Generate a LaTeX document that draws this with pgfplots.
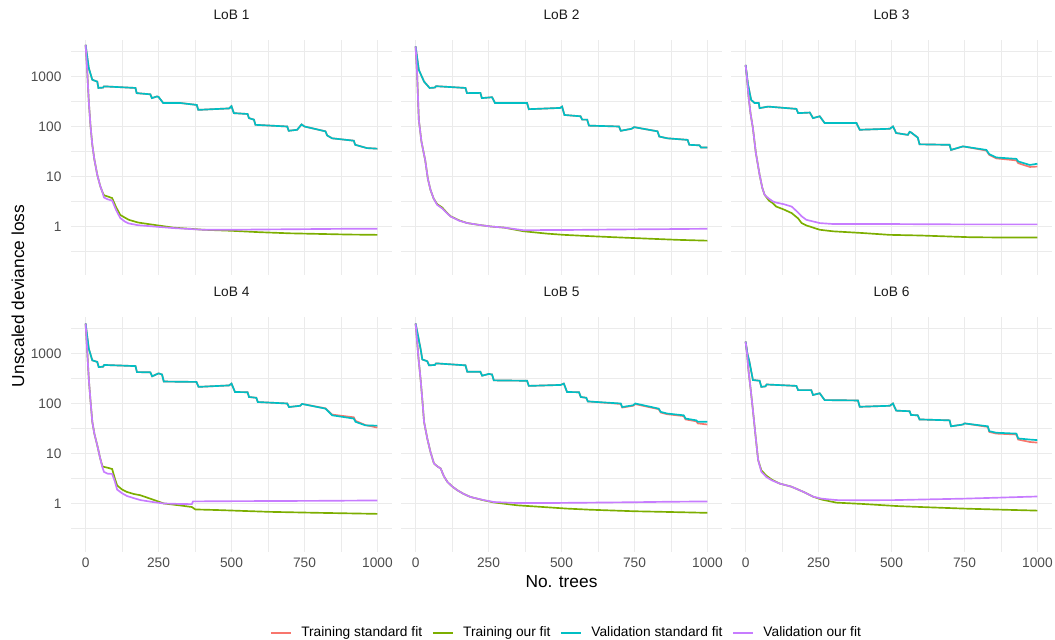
\documentclass[border=0pt]{standalone}
\usepackage{fontspec}
\setmainfont{Liberation Sans}
\usepackage{pgfplots}
\usepackage{pgfplotstable}
\pgfplotsset{compat=1.18}
\definecolor{cR}{HTML}{F8766D}
\definecolor{cG}{HTML}{7CAE00}
\definecolor{cT}{HTML}{00BFC4}
\definecolor{cP}{HTML}{C77CFF}
\definecolor{gridc}{HTML}{EBEBEB}
\definecolor{tickc}{HTML}{4D4D4D}
\definecolor{stripc}{HTML}{1A1A1A}

% standard fit: x, training (trs), validation (vas)
\pgfplotstableread{
x trs vas
0 4300 4300
11 1470 1470
23 860 860
40 790 790
44 590 590
60 600 600
63 635 635
171 590 590
175 465 465
222 440 440
227 370 370
245 400 400
250 390 390
266 295 295
325 295 295
381 270 270
386 215 215
492 230 230
500 255 255
508 185 185
555 178 178
560 147 147
577 137 137
582 108 108
691 100 100
696 82 82
725 86 86
740 110 110
750 100 100
822 80 80
828 66 66
845 58 58
919 52 52
924 43 43
964 37 37
1000 36 36
}\sA
\pgfplotstableread{
x tro vao
0 4300 4300
5 1500 1500
11 316 316
17 100 100
23 43 43
30 22 22
40 10.8 10.8
50 6.5 6.5
57 5.0 5.0
63 4.2 3.8
75 4.0 3.5
91 3.7 3.3
105 2.4 2.1
119 1.7 1.47
135 1.5 1.25
148 1.36 1.15
180 1.2 1.06
233 1.08 1.0
300 0.95 0.93
404 0.86 0.86
500 0.82 0.86
594 0.77 0.87
700 0.73 0.88
800 0.71 0.89
900 0.69 0.9
1000 0.68 0.9
}\oA

\pgfplotstableread{
x trs vas
0 4000 4000
11 1360 1360
29 790 790
48 590 590
66 600 600
70 640 640
171 590 590
176 465 465
222 470 470
227 370 370
262 385 385
272 295 295
382 295 295
388 222 222
495 235 235
502 250 250
510 170 170
565 160 160
571 137 137
588 137 137
594 104 104
697 100 100
703 82 82
740 90 90
749 97 97
829 80 80
835 63 63
863 58 58
932 54 54
938 43 43
973 42 42
978 38 38
1000 38 38
}\sB
\pgfplotstableread{
x tro vao
0 4000 4000
5 1200 1200
11 137 137
20 50 50
33 21 21
42 9 9
51 5.4 5.4
62 3.6 3.6
74 2.8 2.7
91 2.4 2.3
105 1.95 1.9
120 1.6 1.58
150 1.32 1.3
177 1.17 1.17
220 1.07 1.07
257 1.0 1.0
303 0.95 0.95
371 0.8 0.84
450 0.72 0.85
508 0.68 0.85
600 0.64 0.86
680 0.61 0.87
800 0.57 0.88
900 0.54 0.89
1000 0.52 0.9
}\oB

\pgfplotstableread{
x trs vas
0 1700 1700
8 700 700
19 340 340
31 295 295
45 295 295
48 233 233
77 250 250
174 225 225
180 185 185
220 190 190
231 147 147
254 160 160
271 117 117
380 117 117
391 86 86
494 90 90
505 100 100
516 74 74
556 68 68
562 78 78
567 76 76
590 60 60
596 44 44
699 43 43
704 34 34
745 40 40
825 33 34
835 27 28
859 23 24
928 21 22.5
934 18.5 20
974 15.5 17
1000 15.8 18
}\sC
\pgfplotstableread{
x tro vao
0 1700 1700
5 900 900
10 400 400
17 180 180
25 93 93
35 30 30
48 10.8 10.8
57 6 6
65 4.3 4.3
80 3.3 3.6
94 2.9 3.16
105 2.5 3.0
130 2.2 2.8
158 1.85 2.5
180 1.45 1.9
192 1.17 1.6
208 1.05 1.36
254 0.86 1.17
300 0.8 1.12
400 0.74 1.12
494 0.68 1.12
600 0.66 1.11
769 0.61 1.1
900 0.6 1.1
1000 0.6 1.1
}\oC

\pgfplotstableread{
x trs vas
0 3980 3980
11 1250 1250
23 730 730
40 680 680
45 535 535
60 545 545
64 590 590
171 560 560
176 425 425
222 420 420
228 350 350
250 400 400
262 380 380
268 275 275
380 270 270
387 215 215
492 230 230
500 250 250
512 170 170
555 168 168
560 135 135
585 130 130
590 107 107
691 100 100
697 85 85
735 90 90
742 98 98
822 80 79
845 60 58
919 53 50
925 45 43
959 37 36.5
1000 33 36
}\sD
\pgfplotstableread{
x tro vao
0 3980 3980
5 1300 1300
11 310 310
17 110 110
23 43 43
30 25 25
40 14.6 14.6
50 8 8
58 5.5 5.2
63 5.4 4.3
75 5.2 3.95
91 4.9 3.9
100 3.2 2.8
108 2.3 1.9
125 1.9 1.6
142 1.7 1.41
165 1.55 1.28
188 1.46 1.17
230 1.2 1.07
268 1.0 1.0
320 0.92 0.98
364 0.85 0.97
368 0.82 1.1
376 0.76 1.1
450 0.74 1.11
632 0.68 1.12
800 0.65 1.13
1000 0.62 1.15
}\oD

\pgfplotstableread{
x trs vas
0 3980 3980
17 1250 1250
23 760 760
40 700 700
46 580 580
66 590 590
70 635 635
171 580 580
177 430 430
222 430 430
228 360 360
251 390 390
262 380 380
268 290 290
382 285 285
388 225 225
497 235 235
508 250 250
519 170 170
560 168 168
566 135 135
585 130 130
590 110 110
703 98 100
708 83 85
745 90 92
753 97 100
833 77 79
840 66 68
862 61 63
919 56 58
925 48 50
962 44 46
967 40 43
1000 38 43
}\sE
\pgfplotstableread{
x tro vao
0 3980 3980
5 1800 1800
10 800 800
17 310 310
23 120 120
29 43 43
40 20 20
51 10.7 10.7
63 6.3 6.3
75 5.5 5.5
86 5.0 5.0
97 3.5 3.5
109 2.7 2.7
125 2.2 2.2
143 1.84 1.84
165 1.55 1.55
188 1.35 1.35
230 1.17 1.18
268 1.05 1.07
348 0.92 1.02
450 0.84 1.02
519 0.79 1.03
600 0.75 1.04
747 0.70 1.06
850 0.68 1.08
1000 0.65 1.1
}\oE

\pgfplotstableread{
x trs vas
0 1730 1730
6 1000 1000
13 690 690
25 295 295
48 285 285
54 215 215
68 220 220
72 240 240
174 225 225
180 185 185
225 185 185
231 148 148
254 160 160
271 117 117
385 115 115
391 86 86
494 90 90
505 100 100
516 72 72
562 70 70
567 59 59
590 58 58
596 48 48
699 46 46
704 35 35
745 38 38
750 40 40
830 34 35
835 27 28
859 25 26
928 24 25
934 19 20
974 17 19
1000 16.5 18.5
}\sF
\pgfplotstableread{
x tro vao
0 1730 1730
5 1000 1000
10 450 450
17 200 200
25 74 74
35 20 20
43 7.4 7.4
54 4.6 4.3
71 3.6 3.4
90 3.0 2.9
117 2.5 2.5
157 2.17 2.17
197 1.72 1.72
231 1.37 1.37
260 1.2 1.25
311 1.04 1.17
400 0.98 1.16
516 0.89 1.17
600 0.85 1.2
750 0.79 1.25
850 0.76 1.3
1000 0.72 1.38
}\oF

\pgfplotsset{
 every axis/.append style={
  scale only axis, width=240.75pt, height=176.25pt,
  xmin=-50, xmax=1050, ymin=0.107, ymax=5370,
  axis line style={draw=none},
  major tick length=0pt, minor tick length=0pt,
  xtick={0,250,500,750,1000}, minor xtick={125,375,625,875},
  ytick={1,10,100,1000}, minor ytick={0.316,3.16,31.6,316,3162},
  yticklabels={1,10,100,1000},
  grid=both,
  major grid style={draw=gridc, line width=1.0pt},
  minor grid style={draw=gridc, line width=0.5pt},
  ticklabel style={font=\fontsize{10.3}{12}\selectfont, text=tickc},
  yticklabel style={inner sep=0pt, xshift=-7pt, anchor=east},
  xticklabel style={inner sep=0pt, yshift=-4.5pt, anchor=north},
  title style={font=\fontsize{10.3}{12}\selectfont, text=stripc, anchor=center, at={(0.5,1)}, yshift=12.8pt},
  every axis plot/.append style={line width=1.25pt, mark=none},
 },
}

\begin{document}
\begin{tikzpicture}
\useasboundingbox (0,0) rectangle (791.25pt,-479.25pt);

\begin{axis}[ymode=log, xticklabels={}, title={LoB 1}, at={(53.25pt,-30pt)}, anchor=north west,
  legend columns=4,
  legend style={draw=none, fill=none, at={(1.545,-1.522)}, anchor=center,
    font=\fontsize{10.3}{12}\selectfont,
    /tikz/every odd column/.append style={column sep=5pt},
    /tikz/every even column/.append style={column sep=5.5pt}},
  legend image code/.code={\draw[#1] (0pt,0pt) -- (15pt,0pt);}]
\addplot[cR] table[x=x,y=trs]{\sA}; \addlegendentry{Training standard fit}
\addplot[cG] table[x=x,y=tro]{\oA}; \addlegendentry{Training our fit}
\addplot[cT] table[x=x,y=vas]{\sA}; \addlegendentry{Validation standard fit}
\addplot[cP] table[x=x,y=vao]{\oA}; \addlegendentry{Validation our fit}
\end{axis}

\begin{axis}[ymode=log, xticklabels={}, yticklabels={}, title={LoB 2}, at={(300.75pt,-30pt)}, anchor=north west]
\addplot[cR] table[x=x,y=trs]{\sB};
\addplot[cG] table[x=x,y=tro]{\oB};
\addplot[cT] table[x=x,y=vas]{\sB};
\addplot[cP] table[x=x,y=vao]{\oB};
\end{axis}

\begin{axis}[ymode=log, xticklabels={}, yticklabels={}, title={LoB 3}, at={(548.25pt,-30pt)}, anchor=north west]
\addplot[cR] table[x=x,y=trs]{\sC};
\addplot[cG] table[x=x,y=tro]{\oC};
\addplot[cT] table[x=x,y=vas]{\sC};
\addplot[cP] table[x=x,y=vao]{\oC};
\end{axis}

\begin{axis}[ymode=log, xticklabels={0,250,500,750,1000}, title={LoB 4}, at={(53.25pt,-237.75pt)}, anchor=north west]
\addplot[cR] table[x=x,y=trs]{\sD};
\addplot[cG] table[x=x,y=tro]{\oD};
\addplot[cT] table[x=x,y=vas]{\sD};
\addplot[cP] table[x=x,y=vao]{\oD};
\end{axis}

\begin{axis}[ymode=log, xticklabels={0,250,500,750,1000}, yticklabels={}, title={LoB 5}, at={(300.75pt,-237.75pt)}, anchor=north west]
\addplot[cR] table[x=x,y=trs]{\sE};
\addplot[cG] table[x=x,y=tro]{\oE};
\addplot[cT] table[x=x,y=vas]{\sE};
\addplot[cP] table[x=x,y=vao]{\oE};
\end{axis}

\begin{axis}[ymode=log, xticklabels={0,250,500,750,1000}, yticklabels={}, title={LoB 6}, at={(548.25pt,-237.75pt)}, anchor=north west]
\addplot[cR] table[x=x,y=trs]{\sF};
\addplot[cG] table[x=x,y=tro]{\oF};
\addplot[cT] table[x=x,y=vas]{\sF};
\addplot[cP] table[x=x,y=vao]{\oF};
\end{axis}

\node[rotate=90, font=\fontsize{13}{15}\selectfont] at (13.5pt,-222pt) {Unscaled deviance loss};
\node[font=\fontsize{13}{15}\selectfont] at (421.1pt,-436.5pt) {No. trees};
\end{tikzpicture}
\end{document}
